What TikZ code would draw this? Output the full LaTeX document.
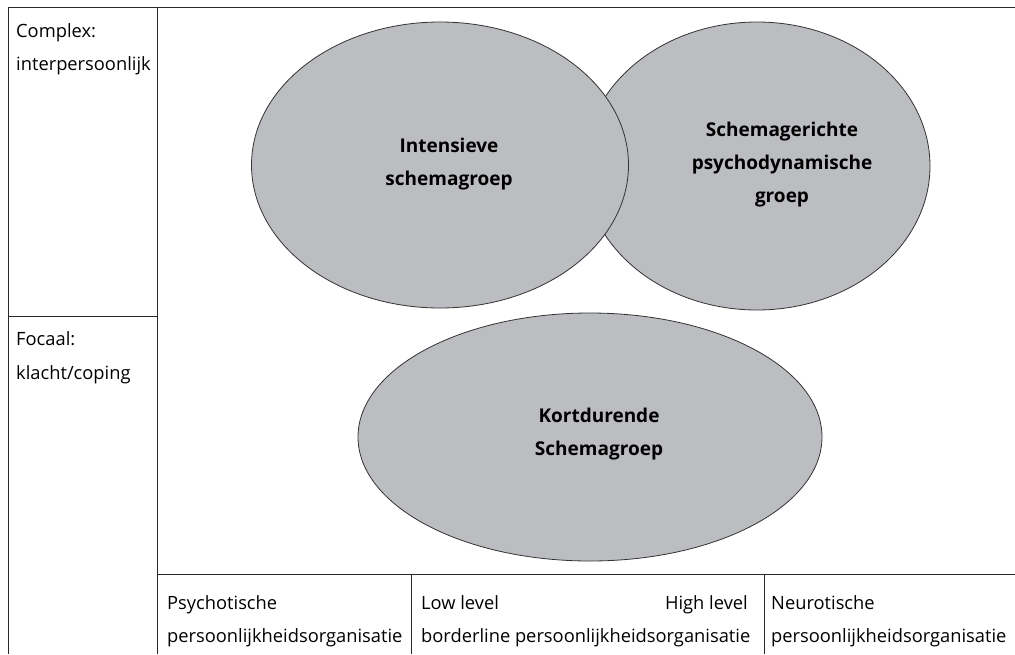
\documentclass[tikz,border=0pt]{standalone}
\usepackage{fontspec}
\setmainfont{Open Sans}
\usetikzlibrary{shapes.geometric}
\definecolor{ellgray}{RGB}{188,189,193}
\definecolor{linegray}{RGB}{40,40,40}
\tikzset{
  grid/.style={draw=linegray, line width=1pt},
  blob/.style={ellipse, draw=black!80, line width=0.8pt, fill=ellgray, inner sep=0pt},
  lbl/.style={anchor=base west, inner sep=0pt, font=\fontsize{18.3}{22}\selectfont},
  lblr/.style={anchor=base east, inner sep=0pt, font=\fontsize{18.3}{22}\selectfont},
  etext/.style={align=center, font=\fontsize{19}{33}\selectfont\bfseries, inner sep=0pt}
}
\begin{document}
\begin{tikzpicture}[x=1pt,y=-1pt]
\useasboundingbox (0,0) rectangle (1015,654);
% ellipses
\node[blob, minimum width=346pt, minimum height=288pt] (e2) at (757,166) {};
\node[blob, minimum width=377pt, minimum height=286pt] (e1) at (440,165) {};
\node[blob, minimum width=464pt, minimum height=248pt] (e3) at (590,437) {};
\node[etext] (t1) at (449,164) {Intensieve\\schemagroep};
\node[etext] (t2) at (782,165) {Schemagerichte\\psychodynamische\\groep};
\node[etext] (t3) at (599,434) {Kortdurende\\Schemagroep};
% grid
\draw[grid] (8,7) -- (1015,7);
\draw[grid] (8,7) -- (8,654);
\draw[grid] (157,7) -- (157,654);
\draw[grid] (8,316) -- (157,316);
\draw[grid] (157,574) -- (1015,574);
\draw[grid] (411,574) -- (411,654);
\draw[grid] (764,574) -- (764,654);
% left labels
\node[lbl] (c1) at (16,37) {Complex:};
\node[lbl] (c2) at (16,70) {interpersoonlijk};
\node[lbl] (f1) at (16,345) {Focaal:};
\node[lbl] (f2) at (16,379) {klacht/coping};
% bottom labels
\node[lbl] (p1) at (167,609) {Psychotische};
\node[lbl] (p2) at (167,642) {persoonlijkheidsorganisatie};
\node[lbl] (b1) at (421,609) {Low level};
\node[lblr] (b3) at (748,609) {High level};
\node[lbl] (b2) at (421,642) {borderline persoonlijkheidsorganisatie};
\node[lbl] (n1) at (771,609) {Neurotische};
\node[lbl] (n2) at (771,642) {persoonlijkheidsorganisatie};
\end{tikzpicture}
\end{document}
